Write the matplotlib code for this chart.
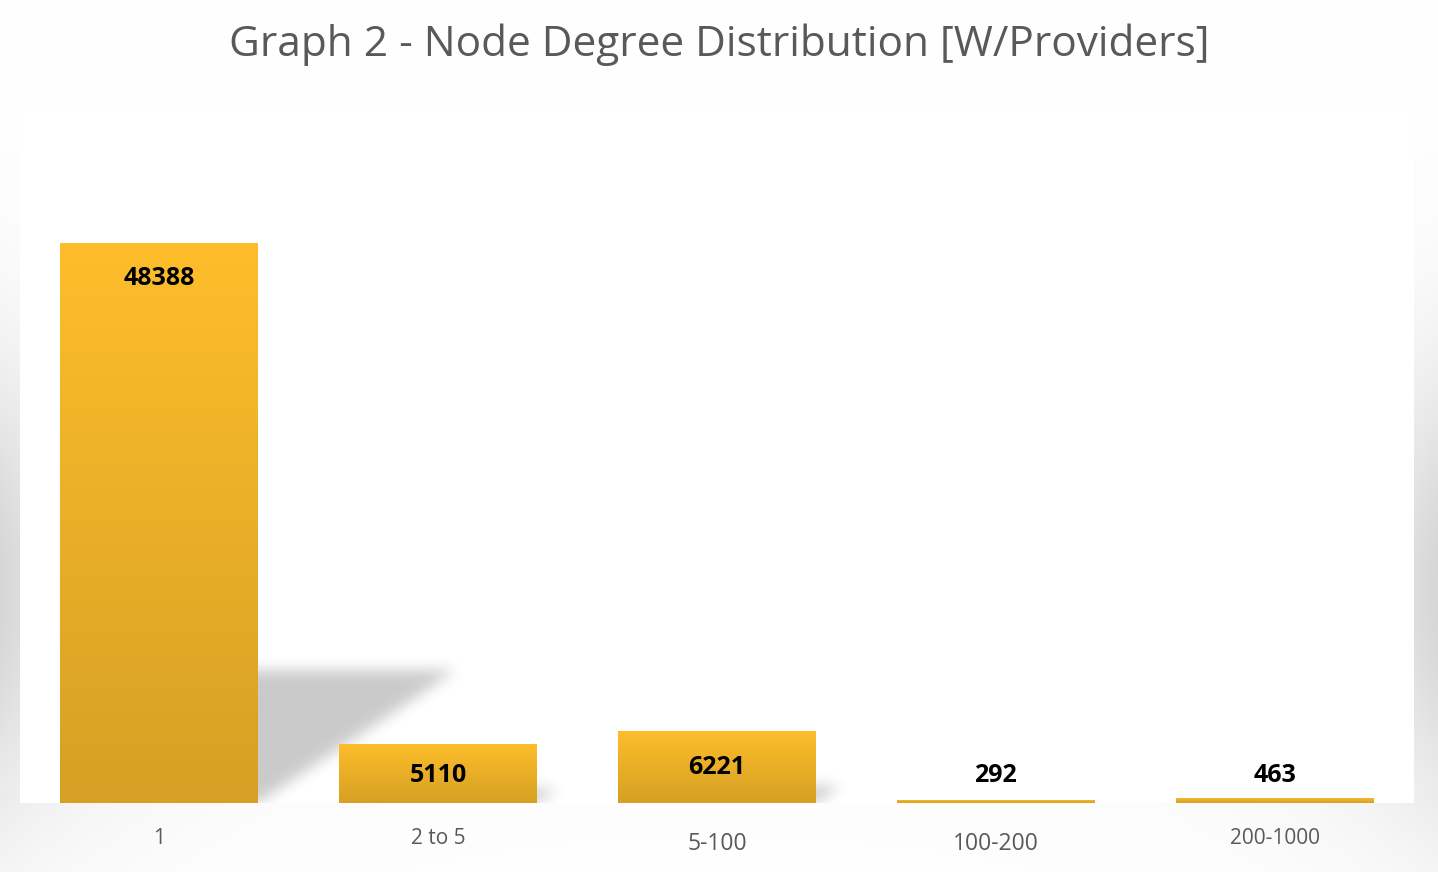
import numpy as np
import matplotlib
matplotlib.use("Agg")
import matplotlib.pyplot as plt
from matplotlib.colors import LinearSegmentedColormap
from matplotlib.transforms import ScaledTranslation

categories = ['1', '2 to 5', '5-100', '100-200', '200-1000']
counts = [48388, 5110, 6221, 292, 463]
title = 'Graph 2 - Node Degree Distribution [W/Providers]'

W, H = 1438, 872
fig = plt.figure(figsize=(W / 100, H / 100), dpi=100)
fig.patch.set_facecolor('white')

# soft grey page background
bg = fig.add_axes([0, 0, 1, 1], zorder=-10)
yy, xx = np.mgrid[0:H, 0:W]
d = np.minimum(xx, W - 1 - xx)
vert = np.exp(-((yy - 590) / 230.0) ** 2)
edge = np.exp(-d / 120.0)
g = 1 - 0.16 * vert * edge - 0.012 * vert * (yy > 790)
bg.imshow(np.dstack([g, g, g]), extent=[0, 1, 0, 1], aspect='auto', origin='upper')
bg.set_xlim(0, 1); bg.set_ylim(0, 1)
bg.axis('off')

ax = fig.add_axes([20 / W, 1 - 803 / H, 1394 / W, 695 / H])
ax.set_facecolor('white')
xpos = np.arange(len(categories))
bars = ax.bar(xpos, counts, width=0.71, color='none', edgecolor='none', zorder=3)
ax.set_xlim(-0.5, len(categories) - 0.5)
ax.set_ylim(0, 60000)

# pixel scales
px_x = 1394 / len(categories)   # px per x unit
px_y = 695 / 60000.0            # px per data unit


def gauss_blur(a, sigma):
    r = int(3 * sigma)
    k = np.exp(-0.5 * (np.arange(-r, r + 1) / sigma) ** 2)
    k /= k.sum()
    p = np.pad(a, r, mode='constant')
    p = np.apply_along_axis(lambda m: np.convolve(m, k, mode='valid'), 0, p)
    p = np.apply_along_axis(lambda m: np.convolve(m, k, mode='valid'), 1, p)
    return p


# perspective shadows (blurred) derived from each bar's geometry
for b in bars:
    hp = b.get_height() * px_y
    if hp < 20:
        continue
    xr = b.get_x() + b.get_width()
    sig = 7.0
    pad = int(3 * sig) + 2
    wpx = int(0.36 * hp) + 2 * pad
    hpx = int(0.25 * hp) + pad
    gy, gx = np.mgrid[0:hpx, 0:wpx]
    gx = gx - pad
    top = 0.234 * hp
    inside = (gy <= top) & (gx <= 0.35 * hp * gy / max(top, 1))
    m = gauss_blur(inside.astype(float), sig)
    rgba = np.zeros((hpx, wpx, 4))
    rgba[..., 3] = 0.21 * m
    ax.imshow(rgba, origin='lower', aspect='auto', zorder=2,
              extent=[xr - pad / px_x, xr + (wpx - pad) / px_x, 0, hpx / px_y])

# gradient bar fills
gold = LinearSegmentedColormap.from_list('gold', ['#D5A024', '#FEBE2B'])
grad = np.linspace(0, 1, 256)[:, None]
for b in bars:
    x0, w, h = b.get_x(), b.get_width(), b.get_height()
    im = ax.imshow(grad, extent=[x0, x0 + w, 0, h], origin='lower', cmap=gold,
                   aspect='auto', zorder=3)
    im.set_clip_path(b)

ax.set_xlim(-0.5, len(categories) - 0.5)
ax.set_ylim(0, 60000)
ax.set_aspect('auto')

# value labels
for xi, v in zip(xpos, counts):
    yl = max(v - 3150, 2340)
    ax.text(xi, yl, str(v), ha='center', va='center', fontsize=18,
            fontweight='bold', family='Open Sans', color='black', zorder=5)

for s in ax.spines.values():
    s.set_visible(False)
ax.set_yticks([])
ax.set_xticks(xpos, categories)
ax.tick_params(axis='x', length=0, pad=18, colors='#595959', labelsize=15)
for i, lbl in enumerate(ax.get_xticklabels()):
    lbl.set_family('Open Sans')
    if i in (2, 3):
        lbl.set_fontsize(16.5)
        lbl.set_transform(lbl.get_transform() + ScaledTranslation(0, -3 / 72, fig.dpi_scale_trans))

fig.text(0.5, 1 - 45 / H, title, ha='center', va='center', fontsize=30.5,
         family='Open Sans', fontweight='medium', color='#595959')

fig.savefig('out.png', dpi=100)
